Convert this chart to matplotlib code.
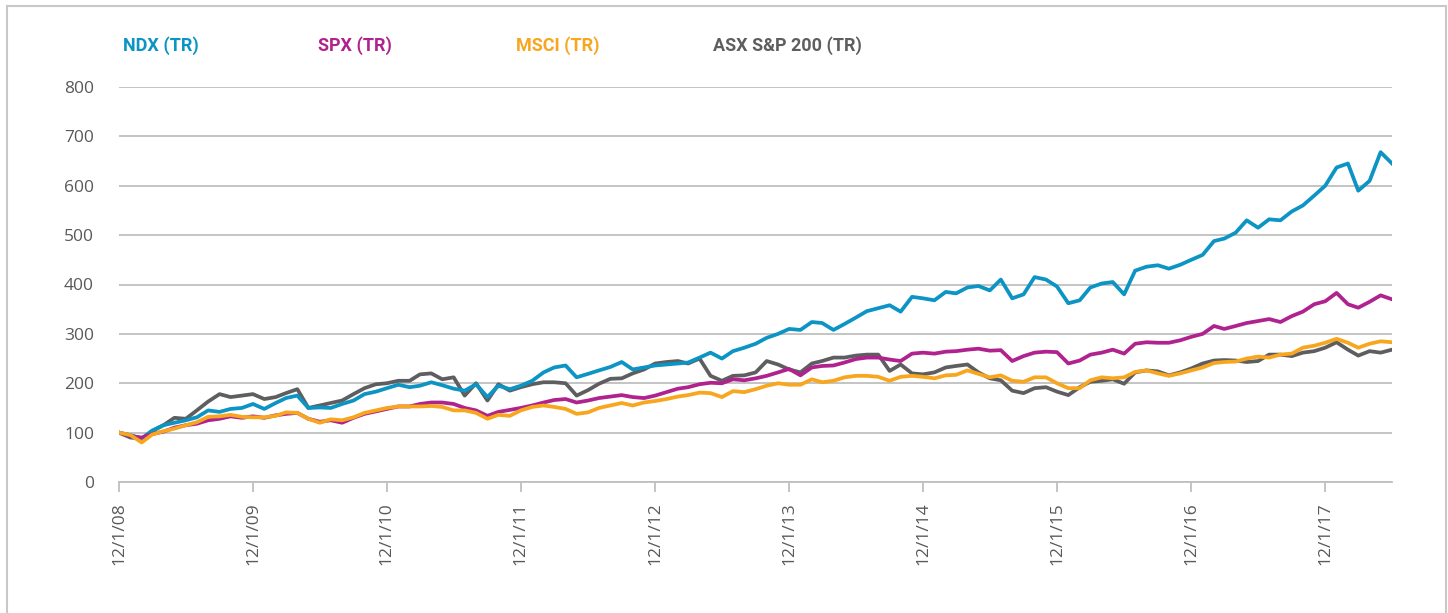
import matplotlib
matplotlib.use("Agg")
import matplotlib.pyplot as plt
import matplotlib.dates as mdates
import pandas as pd
from matplotlib.patches import Rectangle

# ---- data (monthly) ----
dates = pd.date_range("2008-12-01", periods=115, freq="MS")

ndx = [100, 95, 88, 104, 115, 120, 125, 131, 145, 142, 148, 150,
       158, 148, 160, 170, 175, 150, 151, 150, 158, 165, 178, 183,
       190, 197, 192, 195, 202, 196, 189, 185, 198, 172, 195, 188,
       195, 205, 222, 232, 236, 212, 219, 226, 233, 243, 228, 232,
       236, 238, 240, 242, 252, 262, 250, 265, 272, 280, 292, 300,
       310, 308, 324, 322, 308, 320, 333, 346, 352, 358, 345, 375,
       372, 368, 385, 382, 394, 397, 388, 410, 372, 380, 415, 410,
       396, 362, 368, 394, 402, 405, 380, 428, 436, 439, 432, 440,
       450, 460, 488, 493, 505, 530, 515, 532, 530, 548, 560, 580,
       600, 637, 645, 590, 610, 668, 645]

spx = [100, 93, 90, 97, 102, 110, 115, 118, 125, 128, 133, 130,
       133, 130, 135, 138, 140, 128, 122, 125, 120, 130, 138, 143,
       148, 153, 153, 158, 161, 161, 158, 150, 145, 134, 142, 146,
       150, 155, 161, 166, 168, 161, 165, 170, 173, 176, 172, 170,
       175, 182, 189, 192, 198, 201, 200, 208, 206, 210, 215, 222,
       229, 216, 232, 235, 236, 242, 249, 252, 252, 248, 245, 260,
       262, 260, 264, 265, 268, 270, 266, 267, 245, 255, 262, 264,
       263, 240, 246, 258, 262, 268, 260, 280, 283, 282, 282, 287,
       294, 300, 316, 310, 316, 322, 326, 330, 324, 336, 345, 360,
       366, 383, 360, 353, 365, 378, 370]

msci = [100, 95, 80, 96, 103, 108, 115, 121, 132, 133, 136, 132,
        131, 131, 134, 141, 140, 128, 120, 127, 125, 131, 140, 145,
        150, 153, 153, 153, 154, 152, 145, 145, 140, 128, 136, 134,
        145, 152, 155, 152, 148, 138, 141, 150, 155, 160, 155, 161,
        164, 168, 173, 176, 181, 180, 172, 184, 182, 188, 195, 200,
        197, 197, 208, 202, 205, 212, 215, 215, 213, 205, 213, 215,
        213, 210, 216, 217, 226, 219, 212, 216, 205, 203, 212, 212,
        200, 190, 190, 206, 212, 210, 212, 223, 226, 220, 215, 220,
        226, 232, 241, 243, 244, 250, 254, 252, 258, 260, 272, 276,
        282, 290, 282, 272, 280, 285, 283]

asx = [100, 90, 88, 103, 115, 130, 128, 145, 163, 178, 172, 175,
       178, 168, 172, 180, 188, 150, 155, 160, 165, 178, 190, 198,
       200, 205, 205, 218, 220, 208, 212, 175, 200, 165, 198, 185,
       192, 198, 202, 202, 200, 175, 186, 199, 209, 210, 220, 228,
       240, 243, 245, 240, 250, 215, 205, 215, 216, 222, 245, 238,
       228, 222, 240, 245, 252, 252, 256, 258, 258, 225, 238, 220,
       218, 222, 232, 235, 238, 222, 210, 206, 185, 180, 190, 192,
       183, 176, 192, 203, 205, 208, 199, 222, 226, 224, 216, 222,
       230, 240, 246, 247, 246, 243, 245, 258, 258, 255, 262, 265,
       272, 283, 268, 256, 265, 262, 268]

series_names = ["NDX (TR)", "SPX (TR)", "MSCI (TR)", "ASX S&P 200 (TR)"]
tick_dates = pd.date_range("2008-12-01", "2017-12-01", freq="12MS")
tick_labels = ["12/1/08", "12/1/09", "12/1/10", "12/1/11", "12/1/12",
               "12/1/13", "12/1/14", "12/1/15", "12/1/16", "12/1/17"]
y_ticks = [0, 100, 200, 300, 400, 500, 600, 700, 800]

# ---- styling ----
colors = {"NDX (TR)": "#0b94c4", "SPX (TR)": "#b0228e",
          "MSCI (TR)": "#f7a61e", "ASX S&P 200 (TR)": "#5e5e60"}
label_grey = "#595959"
grid_grey = "#bfbfbf"

plt.rcParams["font.family"] = ["Open Sans", "DejaVu Sans"]

fig = plt.figure(figsize=(14.48, 6.13), dpi=100)
ax = fig.add_axes([119 / 1448, 1 - 482 / 613, (1392 - 119) / 1448, (482 - 87) / 613])

lw = 2.7
ax.plot(dates, asx, color=colors["ASX S&P 200 (TR)"], lw=lw, zorder=3)
ax.plot(dates, ndx, color=colors["NDX (TR)"], lw=lw, zorder=4)
ax.plot(dates, spx, color=colors["SPX (TR)"], lw=lw, zorder=5)
ax.plot(dates, msci, color=colors["MSCI (TR)"], lw=lw, zorder=6)

ax.set_xlim(pd.Timestamp("2008-12-01"), pd.Timestamp("2018-06-01"))
ax.set_ylim(0, 800)
ax.set_yticks(y_ticks)
ax.set_yticklabels([str(v) for v in y_ticks])
ax.set_xticks(tick_dates)
ax.set_xticklabels(tick_labels, rotation=90)

ax.grid(axis="y", color=grid_grey, lw=1.3, zorder=0)
ax.set_axisbelow(True)
for s in ["top", "right", "left"]:
    ax.spines[s].set_visible(False)
ax.spines["bottom"].set_color(grid_grey)
ax.spines["bottom"].set_linewidth(1.3)

ax.tick_params(axis="y", length=0, pad=18, labelsize=12.5, labelcolor=label_grey)
ax.tick_params(axis="x", length=7.5, width=1.3, color=grid_grey, pad=7,
               labelsize=12.5, labelcolor=label_grey)

# legend as coloured text labels
legend_x = [123, 318, 516, 713]
for name, lx in zip(series_names, legend_x):
    fig.text(lx / 1448, 1 - 46 / 613, name, color=colors[name],
             fontsize=13, fontweight="bold", family=["Roboto", "DejaVu Sans"],
             ha="left", va="center")

# outer frame
fig.patches.append(Rectangle((7 / 1448, -0.05), (1446 - 7) / 1448, 1.05 - 6 / 613,
                             transform=fig.transFigure, fill=False,
                             edgecolor="#c8c8c8", lw=1.5, zorder=0))

fig.savefig("out.png", dpi=100)
